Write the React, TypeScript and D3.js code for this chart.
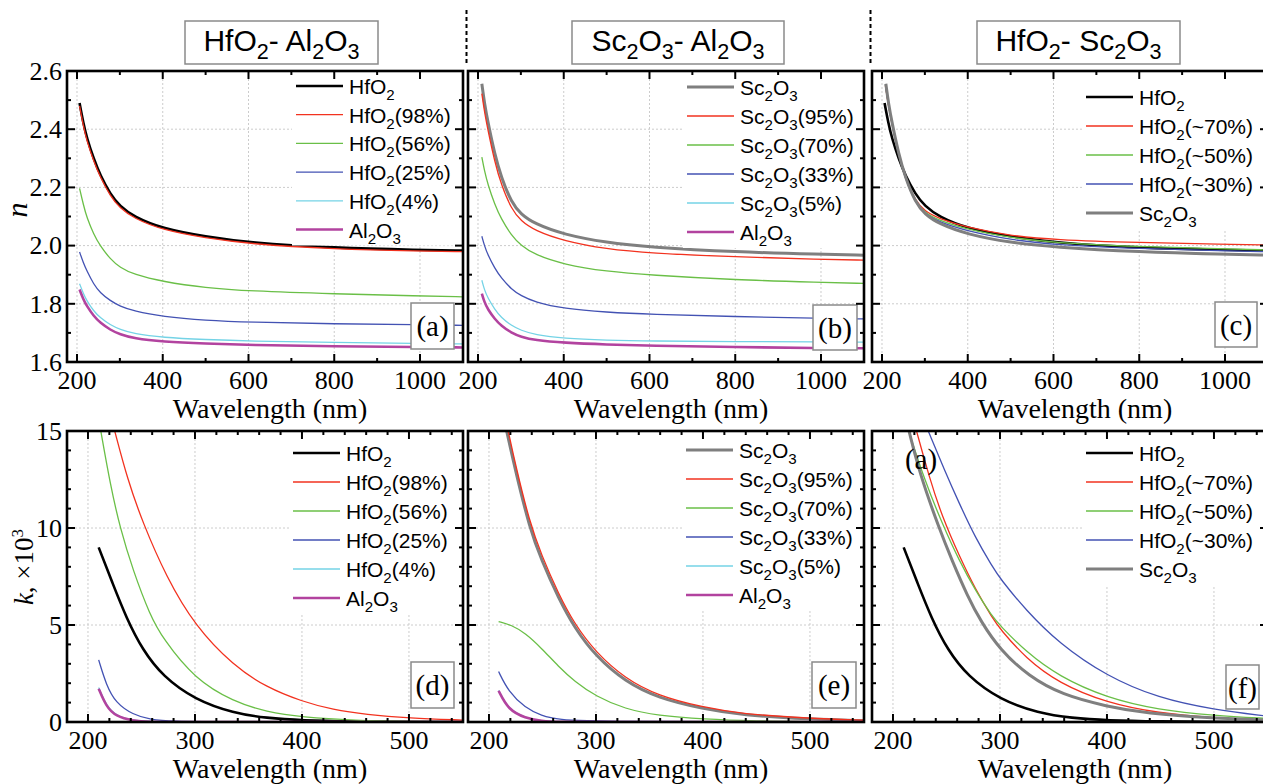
import React from "react";
import * as d3 from "d3";

// ---------- data ----------
// refractive index n, wavelengths in nm
const wlA = [206, 215, 223, 239, 254, 278, 300, 332, 400, 500, 600, 800, 1000, 1100];
const wlB = [209, 215, 223, 239, 254, 278, 300, 332, 400, 500, 600, 800, 1000, 1100];
const wlC = [208, 215, 223, 239, 254, 278, 300, 332, 400, 500, 600, 800, 1000, 1100];

const nHfO2 = [2.49, 2.42, 2.37, 2.298, 2.243, 2.176, 2.136, 2.1, 2.058, 2.031, 2.01, 1.992, 1.985, 1.983];
const nHfO2_98 = [2.48, 2.41, 2.36, 2.29, 2.236, 2.169, 2.129, 2.094, 2.053, 2.026, 2.006, 1.988, 1.981, 1.979];
const nHfO2_56 = [2.197, 2.14, 2.096, 2.039, 1.999, 1.953, 1.925, 1.901, 1.876, 1.855, 1.844, 1.834, 1.827, 1.824];
const nHfO2_25 = [1.978, 1.94, 1.913, 1.867, 1.838, 1.81, 1.792, 1.775, 1.756, 1.743, 1.737, 1.731, 1.728, 1.726];
const nHfO2_4 = [1.869, 1.835, 1.81, 1.775, 1.752, 1.727, 1.712, 1.697, 1.684, 1.677, 1.672, 1.667, 1.664, 1.662];
const nAl2O3a = [1.849, 1.815, 1.792, 1.758, 1.735, 1.71, 1.695, 1.681, 1.67, 1.663, 1.658, 1.654, 1.651, 1.65];

const nSc2O3 = [2.556, 2.49, 2.425, 2.314, 2.236, 2.148, 2.108, 2.075, 2.038, 2.01, 1.995, 1.978, 1.97, 1.967];
const nSc2O3_95 = [2.522, 2.46, 2.398, 2.288, 2.21, 2.125, 2.085, 2.052, 2.016, 1.988, 1.974, 1.961, 1.953, 1.95];
const nSc2O3_70 = [2.304, 2.258, 2.21, 2.142, 2.092, 2.035, 2.001, 1.969, 1.935, 1.911, 1.899, 1.882, 1.874, 1.87];
const nSc2O3_33 = [2.032, 2.0, 1.968, 1.922, 1.889, 1.85, 1.828, 1.806, 1.783, 1.771, 1.764, 1.756, 1.75, 1.748];
const nSc2O3_5 = [1.881, 1.848, 1.82, 1.781, 1.753, 1.725, 1.709, 1.694, 1.681, 1.675, 1.672, 1.67, 1.669, 1.668];
const nAl2O3b = [1.835, 1.806, 1.781, 1.748, 1.725, 1.7, 1.687, 1.675, 1.666, 1.66, 1.656, 1.651, 1.648, 1.647];

const nHfO2_70c = [2.55, 2.48, 2.42, 2.312, 2.234, 2.153, 2.118, 2.093, 2.062, 2.034, 2.02, 2.01, 2.005, 2.002];
const nHfO2_50c = [2.552, 2.482, 2.421, 2.311, 2.232, 2.15, 2.113, 2.087, 2.055, 2.027, 2.01, 1.996, 1.989, 1.985];
const nHfO2_30c = [2.553, 2.484, 2.422, 2.311, 2.231, 2.148, 2.109, 2.081, 2.049, 2.02, 2.003, 1.989, 1.982, 1.979];

// extinction coefficient k (x10^3)
const kHfO2Wl = [210, 223, 236, 251, 270, 300, 336, 367, 400, 450, 500, 550];
const kHfO2 = [9.0, 7.15, 5.35, 3.72, 2.35, 1.15, 0.46, 0.2, 0.08, 0.03, 0.01, 0.0];
const kHfO2_98Wl = [225, 237, 251, 273, 300, 336, 367, 400, 429, 460, 500, 550];
const kHfO2_98 = [15, 12.5, 10.3, 7.5, 4.95, 2.9, 1.78, 1.06, 0.63, 0.38, 0.2, 0.1];
const kHfO2_56Wl = [212, 221, 230, 242, 258, 270, 300, 336, 367, 400, 450, 500, 550];
const kHfO2_56 = [15, 12.2, 10.0, 7.83, 5.5, 4.3, 2.2, 1.05, 0.52, 0.25, 0.08, 0.03, 0.01];
const kLowWlD = [210, 217, 226, 242, 258, 280, 320, 550];
const kHfO2_25 = [3.2, 1.92, 0.98, 0.38, 0.12, 0.03, 0.0, 0.0];
const kHfO2_4 = [1.78, 0.86, 0.33, 0.07, 0.02, 0.0, 0.0, 0.0];
const kAl2O3d = [1.72, 0.8, 0.29, 0.06, 0.01, 0.0, 0.0, 0.0];

const kSc2O3Wl = [216.5, 225, 238, 249, 265, 280, 300, 327, 358, 400, 436, 500, 550];
const kSc2O3 = [15, 12.9, 10.0, 8.35, 6.38, 4.85, 3.38, 2.09, 1.23, 0.68, 0.36, 0.14, 0.07];
const kSc2O3_95Wl = [218, 225, 238, 249, 265, 280, 300, 327, 358, 400, 436, 500, 550];
const kSc2O3_95 = [15, 13.2, 10.3, 8.62, 6.6, 5.05, 3.58, 2.25, 1.35, 0.76, 0.42, 0.18, 0.09];
const kSc2O3_70Wl = [209, 221, 234, 249, 265, 280, 300, 327, 358, 400, 450, 500, 550];
const kSc2O3_70 = [5.18, 5.0, 4.58, 3.81, 2.86, 2.09, 1.32, 0.67, 0.33, 0.15, 0.05, 0.02, 0.01];
const kLowWlE = [209, 218, 234, 249, 265, 300, 550];
const kSc2O3_33 = [2.6, 1.58, 0.72, 0.33, 0.12, 0.02, 0.0];
const kSc2O3_5 = [1.63, 0.66, 0.21, 0.05, 0.01, 0.0, 0.0];
const kAl2O3e = [1.61, 0.63, 0.2, 0.05, 0.0, 0.0, 0.0];

const kSc2O3fWl = [215, 225, 243, 255, 270, 282, 300, 327, 358, 400, 436, 500, 550];
const kSc2O3f = [15, 12.8, 10.0, 8.35, 6.45, 5.2, 3.72, 2.35, 1.4, 0.8, 0.45, 0.2, 0.1];
const kHfO2_70fWl = [222, 234, 246, 262, 277, 293, 300, 324, 355, 400, 448, 500, 550];
const kHfO2_70f = [15, 12.6, 10.58, 8.55, 6.85, 5.35, 4.8, 3.29, 2.0, 0.98, 0.46, 0.2, 0.09];
const kHfO2_50fWl = [214.6, 230, 246, 262, 277, 293, 300, 324, 355, 400, 448, 500, 550];
const kHfO2_50f = [15, 12.4, 10.23, 8.3, 6.78, 5.42, 4.98, 3.63, 2.35, 1.24, 0.63, 0.33, 0.18];
const kHfO2_30fWl = [233, 248, 262, 277, 293, 300, 324, 355, 400, 448, 500, 550];
const kHfO2_30f = [15, 13.0, 11.26, 9.5, 8.0, 7.4, 5.78, 4.06, 2.35, 1.23, 0.63, 0.3];

const nTicks = [1.6, 1.8, 2.0, 2.2, 2.4, 2.6];
const kTicks = [0, 5, 10, 15];
const wlTicksN = [200, 400, 600, 800, 1000];
const wlTicksK = [200, 300, 400, 500];

// ---------- styling ----------
const W = 396;
const H = 291;
const serif = "'Liberation Serif', 'Times New Roman', serif";
const sans = "'Liberation Sans', Arial, sans-serif";

const col = {
  black: "#000000",
  red: "#f2321f",
  green: "#6abf47",
  blue: "#4352b3",
  cyan: "#74d3e6",
  magenta: "#b2439f",
  gray: "#7f7f7f",
};

type Series = { label: string; wl: number[]; v: number[]; color: string; w: number };

const s = (label: string, wl: number[], v: number[], color: string, w = 1.3): Series => ({ label, wl, v, color, w });

const seriesA = [
  s("HfO_2", wlA, nHfO2, col.black, 2.6),
  s("HfO_2(98%)", wlA, nHfO2_98, col.red),
  s("HfO_2(56%)", wlA, nHfO2_56, col.green),
  s("HfO_2(25%)", wlA, nHfO2_25, col.blue),
  s("HfO_2(4%)", wlA, nHfO2_4, col.cyan),
  s("Al_2O_3", wlA, nAl2O3a, col.magenta, 2.6),
];
const seriesB = [
  s("Sc_2O_3", wlB, nSc2O3, col.gray, 3),
  s("Sc_2O_3(95%)", wlB, nSc2O3_95, col.red),
  s("Sc_2O_3(70%)", wlB, nSc2O3_70, col.green),
  s("Sc_2O_3(33%)", wlB, nSc2O3_33, col.blue),
  s("Sc_2O_3(5%)", wlB, nSc2O3_5, col.cyan),
  s("Al_2O_3", wlB, nAl2O3b, col.magenta, 2.6),
];
const seriesC = [
  s("HfO_2", wlA, nHfO2, col.black, 2.6),
  s("HfO_2(~70%)", wlC, nHfO2_70c, col.red),
  s("HfO_2(~50%)", wlC, nHfO2_50c, col.green),
  s("HfO_2(~30%)", wlC, nHfO2_30c, col.blue),
  s("Sc_2O_3", wlB, nSc2O3, col.gray, 3),
];
const seriesD = [
  s("HfO_2", kHfO2Wl, kHfO2, col.black, 2.6),
  s("HfO_2(98%)", kHfO2_98Wl, kHfO2_98, col.red),
  s("HfO_2(56%)", kHfO2_56Wl, kHfO2_56, col.green),
  s("HfO_2(25%)", kLowWlD, kHfO2_25, col.blue),
  s("HfO_2(4%)", kLowWlD, kHfO2_4, col.cyan),
  s("Al_2O_3", kLowWlD, kAl2O3d, col.magenta, 2.6),
];
const seriesE = [
  s("Sc_2O_3", kSc2O3Wl, kSc2O3, col.gray, 3),
  s("Sc_2O_3(95%)", kSc2O3_95Wl, kSc2O3_95, col.red),
  s("Sc_2O_3(70%)", kSc2O3_70Wl, kSc2O3_70, col.green),
  s("Sc_2O_3(33%)", kLowWlE, kSc2O3_33, col.blue),
  s("Sc_2O_3(5%)", kLowWlE, kSc2O3_5, col.cyan),
  s("Al_2O_3", kLowWlE, kAl2O3e, col.magenta, 2.6),
];
const seriesF = [
  s("HfO_2", kHfO2Wl, kHfO2, col.black, 2.6),
  s("HfO_2(~70%)", kHfO2_70fWl, kHfO2_70f, col.red),
  s("HfO_2(~50%)", kHfO2_50fWl, kHfO2_50f, col.green),
  s("HfO_2(~30%)", kHfO2_30fWl, kHfO2_30f, col.blue),
  s("Sc_2O_3", kSc2O3fWl, kSc2O3f, col.gray, 3),
];

const panels = [
  { id: "a", kind: "n", x: 67, y: 71, series: seriesA, lx: 296, ly: 86, step: 28.7, tag: [411, 303, 43, 46] },
  { id: "b", kind: "n", x: 468, y: 71, series: seriesB, lx: 687, ly: 87, step: 29, tag: [813, 305, 44, 45] },
  { id: "c", kind: "n", x: 872, y: 71, series: seriesC, lx: 1086, ly: 97, step: 29, tag: [1215, 302, 42, 45] },
  { id: "d", kind: "k", x: 67, y: 431, series: seriesD, lx: 293, ly: 453, step: 29, tag: [411, 662, 43, 46] },
  { id: "e", kind: "k", x: 468, y: 431, series: seriesE, lx: 686, ly: 450, step: 29, tag: [812, 662, 44, 46] },
  { id: "f", kind: "k", x: 872, y: 431, series: seriesF, lx: 1086, ly: 453, step: 29, tag: [1226, 665, 33, 44] },
];

const titles = [
  { text: "HfO_2- Al_2O_3", x: 185, w: 193 },
  { text: "Sc_2O_3- Al_2O_3", x: 572, w: 212 },
  { text: "HfO_2- Sc_2O_3", x: 977, w: 203 },
];

// text with chemical subscripts written as _2
function Chem({ text, d }: { text: string; d: number }) {
  const parts = text.split(/_(\d)/);
  let down = false;
  const out: any[] = [];
  parts.forEach((p, i) => {
    if (p === "") return;
    const sub = i % 2 === 1;
    let dy = 0;
    if (sub && !down) { dy = d; down = true; }
    else if (!sub && down) { dy = -d; down = false; }
    out.push(
      <tspan key={i} dy={dy} fontSize={sub ? "72%" : undefined}>{p}</tspan>
    );
  });
  return <>{out}</>;
}

function Panel({ p }: { p: any }) {
  const isN = p.kind === "n";
  const x = d3.scaleLinear().domain(isN ? [176.7, 1100.3] : [180.4, 550.5]).range([p.x, p.x + W]);
  const y = d3.scaleLinear().domain(isN ? [1.6, 2.6] : [0, 15]).range([p.y + H, p.y]);
  const xMaj = isN ? wlTicksN : wlTicksK;
  const yMaj = isN ? nTicks : kTicks;
  const xMin = isN
    ? d3.range(300, 1100, 200)
    : d3.range(220, 551, 20).filter((v) => v % 100 !== 0);
  const yMin = isN
    ? d3.range(1.7, 2.6, 0.2)
    : d3.range(1, 15, 1).filter((v) => v % 5 !== 0);
  const line = d3
    .line<[number, number]>()
    .x((d) => x(d[0]))
    .y((d) => y(d[1]))
    .curve(d3.curveBasis);
  const bottom = p.y + H;
  const right = p.x + W;
  const inner = (v: number, lo: number, hi: number) => v > lo + 1 && v < hi - 1;
  const tickEls: any[] = [];
  const addX = (v: number, len: number) => {
    const xx = x(v);
    if (!inner(xx, p.x, right)) return;
    tickEls.push(<line key={"xb" + v} x1={xx} x2={xx} y1={bottom} y2={bottom - len} />);
    tickEls.push(<line key={"xt" + v} x1={xx} x2={xx} y1={p.y} y2={p.y + len} />);
  };
  const addY = (v: number, len: number) => {
    const yy = y(v);
    if (!inner(yy, p.y, bottom)) return;
    tickEls.push(<line key={"yl" + v} x1={p.x} x2={p.x + len} y1={yy} y2={yy} />);
    tickEls.push(<line key={"yr" + v} x1={right} x2={right - len} y1={yy} y2={yy} />);
  };
  xMaj.forEach((v) => addX(v, 8));
  xMin.forEach((v) => addX(v, 4));
  yMaj.forEach((v) => addY(v, 8));
  yMin.forEach((v) => addY(v, 4));

  const n = p.series.length;
  const legBottom = p.ly + p.step * (n - 1) + 16;
  const [tx, ty, tw, th] = p.tag;

  return (
    <g>
      <defs>
        <clipPath id={"clip" + p.id}>
          <rect x={p.x} y={p.y} width={W} height={H} />
        </clipPath>
      </defs>
      {/* grid */}
      <g stroke="#cccccc" strokeWidth={1} strokeDasharray="2,2">
        {xMaj.filter((v) => inner(x(v), p.x, right)).map((v) => (
          <line key={"gx" + v} x1={x(v)} x2={x(v)} y1={p.y} y2={bottom} />
        ))}
        {yMaj.filter((v) => inner(y(v), p.y, bottom)).map((v) => (
          <line key={"gy" + v} x1={p.x} x2={right} y1={y(v)} y2={y(v)} />
        ))}
      </g>
      {/* curves */}
      <g clipPath={`url(#clip${p.id})`} fill="none">
        {p.series.map((sr: Series, i: number) => (
          <path
            key={i}
            d={line(sr.wl.map((w, j) => [w, sr.v[j]] as [number, number])) || ""}
            stroke={sr.color}
            strokeWidth={sr.w}
            strokeLinejoin="round"
          />
        ))}
      </g>
      {/* legend */}
      <rect x={p.lx - 4} y={p.y + 2} width={right - 2 - (p.lx - 4)} height={legBottom - p.y - 2} fill="#fff" />
      {p.series.map((sr: Series, i: number) => {
        const ly = p.ly + i * p.step;
        return (
          <g key={"lg" + i}>
            <line x1={p.lx} x2={p.lx + 47} y1={ly} y2={ly} stroke={sr.color} strokeWidth={sr.w} />
            <text x={p.lx + 53} y={ly + 8} fontFamily={sans} fontSize={21} fill="#000">
              <Chem text={sr.label} d={6} />
            </text>
          </g>
        );
      })}
      {/* panel tag */}
      <rect x={tx} y={ty} width={tw} height={th} fill="#fff" stroke="#8a8a8a" strokeWidth={1.5} />
      <text x={tx + tw / 2} y={ty + 33} textAnchor="middle" fontFamily={serif} fontSize={29}>
        ({p.id})
      </text>
      {/* ticks + frame */}
      <g stroke="#000" strokeWidth={2}>{tickEls}</g>
      <rect x={p.x} y={p.y} width={W} height={H} fill="none" stroke="#000" strokeWidth={2.6} />
      {/* tick labels */}
      <g fontFamily={serif} fontSize={26} textAnchor="middle">
        {xMaj.map((v) => (
          <text key={"lx" + v} x={x(v)} y={bottom + 27}>{v}</text>
        ))}
      </g>
      {p.x < 100 && (
        <g fontFamily={serif} fontSize={26} textAnchor="end">
          {yMaj.map((v) => (
            <text key={"ly" + v} x={62} y={y(v)} dy="0.34em">
              {isN ? v.toFixed(1) : v}
            </text>
          ))}
        </g>
      )}
      <text x={p.x + W / 2 + 5} y={bottom + 56} textAnchor="middle" fontFamily={serif} fontSize={28}>
        Wavelength (nm)
      </text>
    </g>
  );
}

export default function App() {
  return (
    <svg
      width={1263}
      height={784}
      style={{ position: "absolute", left: 0, top: 0, background: "#fff" }}
    >
      <rect width={1263} height={784} fill="#fff" />
      {/* dashed separators between columns */}
      <g stroke="#000" strokeWidth={2} strokeDasharray="4,3">
        <line x1={466.5} x2={466.5} y1={10} y2={64} />
        <line x1={870.5} x2={870.5} y1={10} y2={64} />
      </g>
      {titles.map((t, i) => (
        <g key={"t" + i}>
          <rect x={t.x} y={21} width={t.w} height={43} fill="#fff" stroke="#8a8a8a" strokeWidth={1.5} />
          <text x={t.x + t.w / 2} y={51} textAnchor="middle" fontFamily={sans} fontSize={30}>
            <Chem text={t.text} d={8} />
          </text>
        </g>
      ))}
      {panels.map((p) => (
        <Panel key={p.id} p={p} />
      ))}
      {/* stray label in panel (f) */}
      <text x={921} y={469} textAnchor="middle" fontFamily={serif} fontSize={29}>(a)</text>
      {/* axis titles */}
      <text transform="translate(27,210) rotate(-90)" textAnchor="middle" fontFamily={serif} fontStyle="italic" fontSize={30}>
        n
      </text>
      <text transform="translate(33,567) rotate(-90)" textAnchor="middle" fontFamily={serif} fontSize={27}>
        <tspan fontStyle="italic">k</tspan>
        <tspan>, ×10</tspan>
        <tspan dy={-10} fontSize={17}>3</tspan>
      </text>
    </svg>
  );
}
